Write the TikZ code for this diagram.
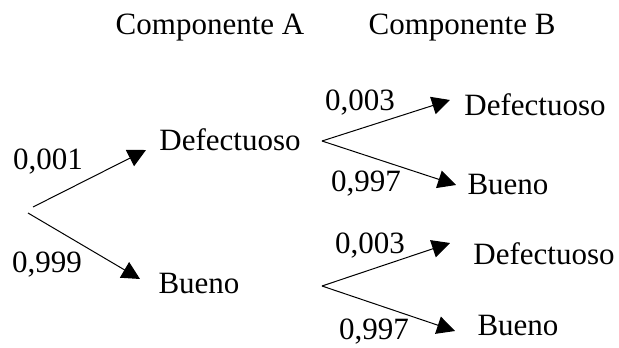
\documentclass[tikz,border=0pt]{standalone}
\usepackage{fontspec}
\setmainfont{Liberation Serif}
\usetikzlibrary{arrows.meta}
\begin{document}
\begin{tikzpicture}[x=0.5pt,y=-0.5pt,
  lbl/.style={inner sep=0pt, font=\fontsize{15.5pt}{18pt}\selectfont},
  branch/.style={line width=0.5pt, -{Triangle[length=9pt,width=9pt]}}]
\useasboundingbox (0,0) rectangle (619,347);
% headers
\node[lbl] (hA) at (210,28) {Componente A};
\node[lbl] (hB) at (462,28) {Componente B};
% first stage
\node[lbl] (p1) at (48,162) {0,001};
\node[lbl] (p2) at (47,265) {0,999};
\node[lbl] (dA) at (230,140) {Defectuoso};
\node[lbl] (bA) at (199,283) {Bueno};
% second stage (upper)
\node[lbl] (q1) at (360,103) {0,003};
\node[lbl] (dB1) at (535,105) {Defectuoso};
\node[lbl] (q2) at (366,184) {0,997};
\node[lbl] (bB1) at (508,185) {Bueno};
% second stage (lower)
\node[lbl] (q3) at (370,246) {0,003};
\node[lbl] (dB2) at (544,254) {Defectuoso};
\node[lbl] (q4) at (374,332) {0,997};
\node[lbl] (bB2) at (518,325) {Bueno};
% connector points
\coordinate (r1) at (33,207);
\coordinate (r2) at (28,213);
\coordinate (t1) at (146,150);
\coordinate (t2) at (140,279);
\coordinate (s1) at (322,141);
\coordinate (u1) at (450,100);
\coordinate (u2) at (456,185);
\coordinate (s2) at (322,286);
\coordinate (v1) at (450,243);
\coordinate (v2) at (455,331);
\draw[branch] (r1) -- (t1);
\draw[branch] (r2) -- (t2);
\draw[branch] (s1) -- (u1);
\draw[branch] (s1) -- (u2);
\draw[branch] (s2) -- (v1);
\draw[branch] (s2) -- (v2);
\end{tikzpicture}
\end{document}
